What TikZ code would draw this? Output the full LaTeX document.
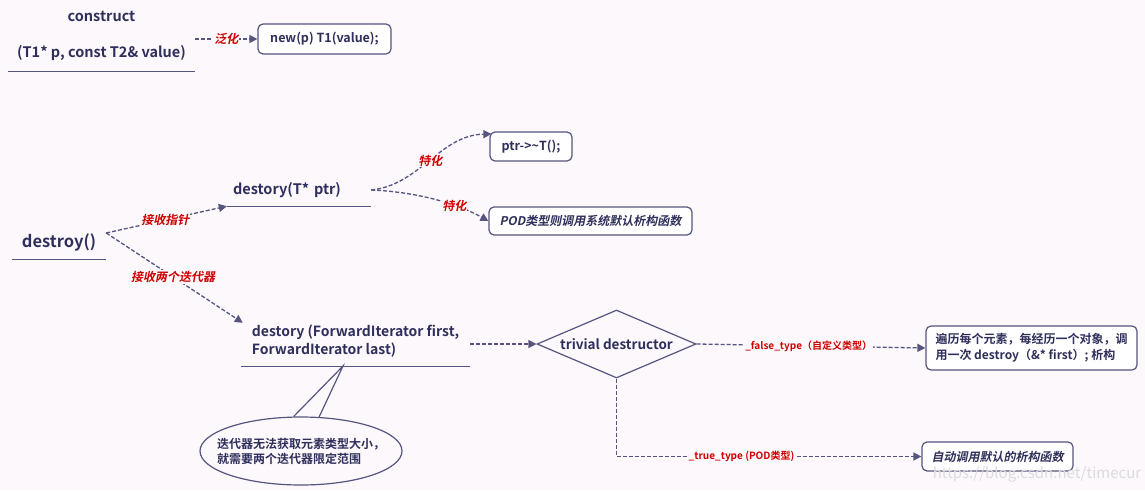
\documentclass[tikz,border=0pt]{standalone}
\usepackage{fontspec}
\setmainfont{Noto Sans CJK SC}[BoldFont={* Bold}, ItalicFont={*}, ItalicFeatures={FakeSlant=0.2}, BoldItalicFont={* Bold}, BoldItalicFeatures={FakeSlant=0.2}]
\usetikzlibrary{arrows.meta,shapes.geometric}
\definecolor{bgc}{HTML}{FCF8FC}
\definecolor{ink}{HTML}{2F2F5C}
\definecolor{edgec}{HTML}{55557F}
\definecolor{lab}{HTML}{D00000}
\definecolor{wm}{HTML}{DCDCDC}
\begin{document}
\begin{tikzpicture}[x=1pt,y=-1pt,
 title/.style={inner sep=0pt, text=ink, font=\bfseries\fontsize{14.5}{18}\selectfont},
 ul/.style={draw=edgec, line width=1.3pt},
 rbox/.style={draw=edgec, line width=1.2pt, rounded corners=5pt, fill=white, text=ink, font=\bfseries\fontsize{12.5}{16}\selectfont, inner sep=0pt},
 flow/.style={draw=edgec, line width=1.3pt, dash pattern=on 4pt off 2pt, -{Triangle[length=8pt,width=8pt]}},
 tag/.style={text=lab, font=\bfseries\itshape\fontsize{12}{12}\selectfont, fill=bgc, inner sep=1pt},
 tagb/.style={text=lab, font=\bfseries\fontsize{10}{10}\selectfont, fill=bgc, inner sep=1pt},
]
\fill[bgc] (0,0) rectangle (1145,490);
\useasboundingbox (0,0) rectangle (1145,490);

% construct
\node[title, minimum width=187pt, minimum height=70pt, align=center] (cons) at (101.5,36) {construct\\[18pt](T1* p, const T2\& value)};
\draw[ul] (cons.south west) -- (cons.south east);
\node[rbox, minimum width=133pt, minimum height=30pt] (nb) at (324.5,39) {new(p) T1(value);};
\draw[flow] ([yshift=-3pt]cons.east) -- node[tag]{泛化} (nb.west);

% destroy
\node[title, font=\bfseries\fontsize{16.5}{18}\selectfont, minimum width=94pt, minimum height=34pt] (dn) at (59,242) {destroy()};
\draw[ul] (dn.south west) -- (dn.south east);

\node[title, text width=132pt, inner xsep=6pt, align=left, minimum height=32pt] (pn) at (299,190) {destory(T* ptr)};
\draw[ul] (pn.south west) -- (pn.south east);

\node[title, font=\bfseries\fontsize{14}{18}\selectfont, minimum width=229pt, align=left, minimum height=50pt] (fw) at (355.5,341) {destory (ForwardIterator first,\\ForwardIterator last)};
\draw[ul] (fw.south west) -- (fw.south east);

\draw[flow] ([yshift=9pt]dn.east) -- node[tag, pos=0.49]{接收指针} (pn.south west);
\draw[flow] ([yshift=9pt]dn.east) -- node[tag, pos=0.49]{接收两个迭代器} ([xshift=2pt,yshift=-7pt]fw.north west);

% specialisations
\node[rbox, minimum width=82pt, minimum height=29pt] (pb) at (531,146.5) {ptr->\textasciitilde T();};
\node[rbox, font=\bfseries\itshape\fontsize{12}{16}\selectfont, minimum width=203pt, minimum height=28pt] (pod) at (590.5,221) {POD类型则调用系统默认析构函数};
\draw[flow] (pn.east) .. controls (420,185) and (440,135) .. node[tag, pos=0.5]{特化} ([xshift=2pt,yshift=12.5pt]pb.west);
\draw[flow] (pn.east) .. controls (420,192) and (460,205) .. node[tag, pos=0.65]{特化} (pod.west);

% diamond
\node[draw=edgec, line width=1.2pt, diamond, aspect=2.34, inner sep=0pt, minimum width=159pt, minimum height=68pt, text=ink, font=\bfseries\fontsize{13.5}{16}\selectfont] (dia) at (616.5,344) {trivial destructor};
\draw[flow] (fw.east |- dia.west) -- (dia.west);

\node[rbox, minimum width=211pt, minimum height=44pt, align=left, font=\bfseries\fontsize{12}{16}\selectfont] (b1) at (1031.5,348) {遍历每个元素，每经历一个对象，调\\用一次 destroy（\&* first）; 析构};
\draw[flow] (dia.east) -- node[tagb, pos=0.49]{\_false\_type（自定义类型）} (b1.west);

\node[rbox, font=\bfseries\itshape\fontsize{12}{16}\selectfont, minimum width=151pt, minimum height=29pt] (b2) at (997.5,456.5) {自动调用默认的析构函数};
\draw[flow] (dia.south) |- node[tagb, pos=0.705]{\_true\_type (POD类型)} (b2.west);

% callout ellipse
\node[draw=edgec, line width=1.2pt, ellipse, minimum width=202pt, minimum height=68pt, inner sep=0pt] (el) at (301,451) {};
\node[text=ink, align=left, inner sep=0pt, font=\bfseries\fontsize{12}{15}\selectfont] (elt) at (el.center) {迭代器无法获取元素类型大小，\\就需要两个迭代器限定范围};
\coordinate (ap) at (343,366);
\draw[draw=edgec, line width=1.2pt] (el.102) -- (ap) -- (el.62);

% watermark
\node[text=wm, font=\fontsize{15}{15}\selectfont, inner sep=0pt] (wmk) at (1037,474) {https://blog.csdn.net/timecur};
\end{tikzpicture}
\end{document}
